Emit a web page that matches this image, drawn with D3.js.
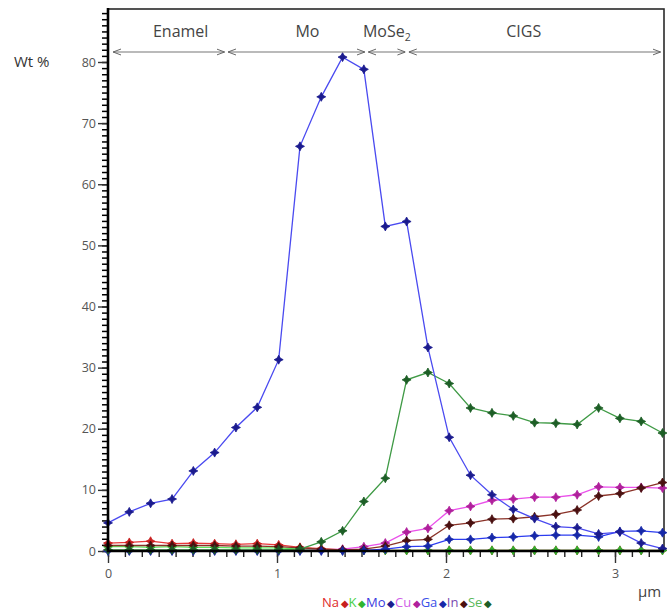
<!DOCTYPE html>
<html>
<head>
<meta charset="utf-8">
<script src="https://cdn.jsdelivr.net/npm/d3@7"></script>
<style>
  body { margin: 0; background: #fff; }
  svg { display: block; }
</style>
</head>
<body>
<div id="chart"></div>
<script>
// depth along the profile (µm)
const depth = [0, 0.126, 0.252, 0.379, 0.505, 0.631, 0.757, 0.883, 1.010, 1.136, 1.262, 1.388, 1.514, 1.641,
    1.767, 1.893, 2.019, 2.145, 2.272, 2.398, 2.524, 2.650, 2.776, 2.903, 3.029, 3.155, 3.281];

const na = [1.3, 1.4, 1.6, 1.2, 1.3, 1.2, 1.1, 1.2, 1.0, 0.6, 0.4, 0.2, 0.1, 0.1, 0.1, 0.1, 0.1, 0.1, 0.1, 0.1, 0.1, 0.1, 0.1, 0.1, 0.1, 0.1, 0.1];
const k = [0.7, 0.7, 0.6, 0.7, 0.6, 0.6, 0.5, 0.5, 0.5, 0.3, 0.2, 0.1, 0.1, 0.1, 0.1, 0.1, 0.1, 0.1, 0.1, 0.1, 0.1, 0.1, 0.1, 0.1, 0.1, 0.1, 0.1];
const mo = [4.6, 6.4, 7.8, 8.5, 13.1, 16.1, 20.2, 23.5, 31.3, 66.2, 74.3, 80.8, 78.8, 53.1, 53.9, 33.3, 18.6, 12.4, 9.2, 6.8, 5.3, 4.0, 3.8, 2.8, 3.1, 1.3, 0.4];
const cu = [0.1, 0.1, 0.1, 0.1, 0.1, 0.1, 0.1, 0.1, 0.1, 0.1, 0.2, 0.3, 0.7, 1.3, 3.1, 3.7, 6.6, 7.3, 8.3, 8.5, 8.8, 8.8, 9.2, 10.5, 10.4, 10.4, 10.3];
const ga = [0, 0, 0, 0, 0, 0, 0, 0, 0, 0, 0, 0, 0.1, 0.3, 0.7, 0.8, 1.9, 1.9, 2.2, 2.3, 2.5, 2.6, 2.6, 2.3, 3.2, 3.3, 3.0];
const inn = [0.9, 0.9, 0.9, 0.9, 0.9, 0.9, 0.8, 0.8, 0.7, 0.5, 0.3, 0.2, 0.3, 0.8, 1.7, 1.9, 4.2, 4.6, 5.2, 5.3, 5.6, 6.0, 6.7, 9.0, 9.4, 10.3, 11.2];
const se = [0.2, 0.2, 0.2, 0.2, 0.2, 0.2, 0.2, 0.2, 0.2, 0.3, 1.5, 3.3, 8.1, 11.9, 28.0, 29.2, 27.4, 23.4, 22.6, 22.1, 21.0, 20.9, 20.7, 23.4, 21.7, 21.2, 19.3];

const elements = ['Na', 'K', 'Mo', 'Cu', 'Ga', 'In', 'Se'];

// layer regions marked along the top
const layerNames = ['Enamel', 'Mo', 'MoSe', 'CIGS'];
const layerStart = [0.03, 0.71, 1.54, 1.78];
const layerEnd = [0.69, 1.52, 1.76, 3.27];
const layerLabelAt = [0.43, 1.18, 1.65, 2.46];

const xTicks = [0, 1, 2, 3];
const yTicks = [0, 10, 20, 30, 40, 50, 60, 70, 80];

const width = 670;
const height = 614;

const styles = {
    Na: {line: '#e8383a', dot: '#c81e1e', text: '#e02a2a', values: na},
    K: {line: '#5ee85e', dot: '#2fb52f', text: '#46d046', values: k},
    Mo: {line: '#4a4af0', dot: '#1b1b8e', text: '#3a3ae0', values: mo},
    Cu: {line: '#ea50ea', dot: '#b0209c', text: '#d060e8', values: cu},
    Ga: {line: '#2c3cf0', dot: '#1628a8', text: '#3a50e8', values: ga},
    In: {line: '#8a3228', dot: '#4a1010', text: '#7a4ab0', values: inn},
    Se: {line: '#3f9a45', dot: '#1d5e26', text: '#5ab85a', values: se}
};

const x = d3.scaleLinear().domain([0, 3.29]).range([108, 664]);
const y = d3.scaleLinear().domain([0, 80]).range([551, 62]);

const svg = d3.select('#chart')
    .append('svg')
    .attr('width', width)
    .attr('height', height)
    .style('font-family', '"Open Sans", sans-serif');

// frame (top / right)
svg.append('rect')
    .attr('x', x(0))
    .attr('y', 9)
    .attr('width', x(3.29) - x(0))
    .attr('height', y(0) - 9)
    .attr('fill', 'none')
    .attr('stroke', '#2a2a2a')
    .attr('stroke-width', 1.6);

// y axis: minor ticks every 1, labelled ticks every 10
const yMinorTicks = d3.range(0, 89, 1);
svg.append('g')
    .attr('class', 'y-minor')
    .attr('transform', `translate(${x(0)},0)`)
    .call(d3.axisLeft(y).tickValues(yMinorTicks).tickSize(6).tickFormat(''))
    .call((g) => g.select('.domain').remove())
    .call((g) => g.selectAll('line').attr('stroke', '#000').attr('stroke-width', 1.5));

svg.append('g')
    .attr('class', 'y-major')
    .attr('transform', `translate(${x(0)},0)`)
    .call(d3.axisLeft(y).tickValues(yTicks).tickSize(10).tickPadding(2))
    .call((g) => g.select('.domain').remove())
    .call((g) => g.selectAll('line').attr('stroke', '#333').attr('stroke-width', 1.4))
    .call((g) => g.selectAll('text')
        .attr('font-family', '"Open Sans", sans-serif')
        .attr('font-size', 12.5)
        .attr('fill', '#555'));

// x axis
const xMinorTicks = d3.range(0, 33).map((i) => i / 10);
svg.append('g')
    .attr('class', 'x-minor')
    .attr('transform', `translate(0,${y(0)})`)
    .call(d3.axisBottom(x).tickValues(xMinorTicks).tickSize(6).tickFormat(''))
    .call((g) => g.select('.domain').remove())
    .call((g) => g.selectAll('line').attr('stroke', '#222').attr('stroke-width', 1.4));

svg.append('g')
    .attr('class', 'x-major')
    .attr('transform', `translate(0,${y(0)})`)
    .call(d3.axisBottom(x).tickValues(xTicks).tickSize(12).tickPadding(6).tickFormat(d3.format('d')))
    .call((g) => g.select('.domain').remove())
    .call((g) => g.selectAll('line').attr('stroke', '#333').attr('stroke-width', 1.4))
    .call((g) => g.selectAll('text')
        .attr('font-family', '"Open Sans", sans-serif')
        .attr('font-size', 12.5)
        .attr('fill', '#555'));

// series
const line = d3.line()
    .x((d, i) => x(depth[i]))
    .y((d) => y(d));

// small four-pointed star like the original plot markers
const star4 = {
    draw(context, size) {
        const r = Math.sqrt(size) * 0.75;
        const w = r * 0.35;
        context.moveTo(0, -r);
        context.lineTo(w, -w);
        context.lineTo(r, 0);
        context.lineTo(w, w);
        context.lineTo(0, r);
        context.lineTo(-w, w);
        context.lineTo(-r, 0);
        context.lineTo(-w, -w);
        context.closePath();
    }
};

const drawOrder = ['Na', 'K', 'Cu', 'In', 'Ga', 'Se', 'Mo'];
const marker = d3.symbol().type(star4).size(36);

drawOrder.forEach((name) => {
    const s = styles[name];
    svg.append('path')
        .datum(s.values)
        .attr('d', line)
        .attr('fill', 'none')
        .attr('stroke', s.line)
        .attr('stroke-width', 1.3);
    svg.append('g')
        .selectAll('path')
        .data(s.values)
        .enter()
        .append('path')
        .attr('d', marker)
        .attr('transform', (d, i) => `translate(${x(depth[i])},${y(d)})`)
        .attr('fill', s.dot)
        .attr('stroke', s.dot)
        .attr('stroke-width', 0.8);
});

// axis lines on top
svg.append('line')
    .attr('x1', x(0)).attr('x2', x(0))
    .attr('y1', 8).attr('y2', y(0) + 1)
    .attr('stroke', '#000').attr('stroke-width', 2.6);
svg.append('line')
    .attr('x1', x(0) - 1).attr('x2', x(3.29))
    .attr('y1', y(0)).attr('y2', y(0))
    .attr('stroke', '#000').attr('stroke-width', 2.6);

// layer arrows
const defs = svg.append('defs');
defs.append('marker')
    .attr('id', 'arrow')
    .attr('viewBox', '0 -4 8 8')
    .attr('refX', 8)
    .attr('refY', 0)
    .attr('markerWidth', 8)
    .attr('markerHeight', 8)
    .attr('markerUnits', 'userSpaceOnUse')
    .attr('orient', 'auto-start-reverse')
    .append('path')
    .attr('d', 'M0,-3L8,0L0,3')
    .attr('fill', 'none')
    .attr('stroke', '#666')
    .attr('stroke-width', 1);

const arrowY = 52;
layerNames.forEach((name, i) => {
    svg.append('line')
        .attr('x1', x(layerStart[i]))
        .attr('x2', x(layerEnd[i]))
        .attr('y1', arrowY)
        .attr('y2', arrowY)
        .attr('stroke', '#777')
        .attr('stroke-width', 1.1)
        .attr('marker-start', 'url(#arrow)')
        .attr('marker-end', 'url(#arrow)');

    const t = svg.append('text')
        .attr('x', x(layerLabelAt[i]))
        .attr('y', 37)
        .attr('text-anchor', 'middle')
        .attr('font-size', 16)
        .attr('fill', '#444')
        .text(name);
    if (name === 'MoSe') {
        t.append('tspan')
            .attr('font-size', 10.5)
            .attr('dy', 4)
            .text('2');
    }
});

// axis titles
svg.append('text')
    .attr('x', 14)
    .attr('y', 67)
    .attr('font-size', 15)
    .attr('fill', '#333')
    .text('Wt %');

svg.append('text')
    .attr('x', 638)
    .attr('y', 597)
    .attr('font-size', 15)
    .attr('fill', '#444')
    .text('µm');

// legend row
const legend = svg.append('text')
    .attr('x', 322)
    .attr('y', 607)
    .attr('font-size', 13);
elements.forEach((name) => {
    legend.append('tspan')
        .attr('fill', styles[name].text)
        .text(name);
    legend.append('tspan')
        .attr('fill', styles[name].dot)
        .attr('font-size', 10)
        .attr('dx', 1.5)
        .text('◆');
    legend.append('tspan')
        .attr('dx', 1.5)
        .text('');
});
</script>
</body>
</html>
